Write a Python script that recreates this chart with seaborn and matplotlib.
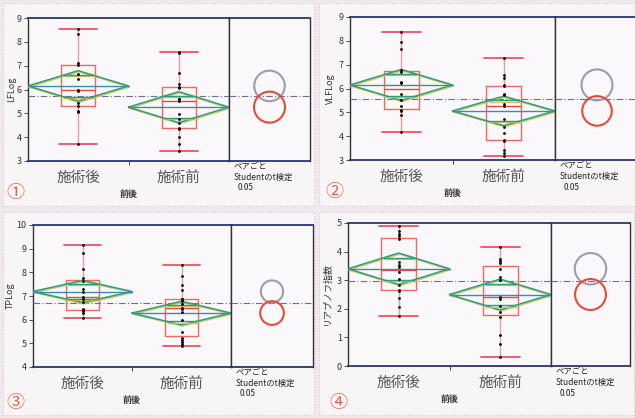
# JMP-style one-way plots (box + means diamond + comparison circles), 4 panels
import numpy as np
import pandas as pd
import matplotlib
matplotlib.use('Agg')
from matplotlib import pyplot as plt
from matplotlib.patches import Ellipse, Rectangle
import matplotlib.patheffects as pe
import seaborn as sns

groups = ['施術後', '施術前']

# panel 1 : LFLog
lf_after = [8.54, 8.31, 7.12, 7.01, 6.63, 6.45, 5.98, 5.92, 5.45, 5.31, 5.10, 5.05, 3.71]
lf_before = [7.57, 7.53, 6.69, 6.24, 6.10, 6.05, 5.62, 5.60, 5.50, 4.96, 4.78, 4.58, 4.40, 4.35, 4.02, 3.71, 3.43]
lf_mean = [6.15, 5.26]
lf_ci = [0.64, 0.65]
lf_grand = 5.71

# panel 2 : VLFLog
vlf_after = [8.37, 7.95, 7.67, 6.77, 6.68, 6.28, 6.21, 5.79, 5.51, 5.26, 5.10, 5.05, 4.88, 4.19]
vlf_before = [7.30, 6.55, 6.42, 6.15, 6.10, 5.79, 5.72, 5.37, 5.25, 4.73, 4.40, 4.14, 3.85, 3.80, 3.42, 3.30, 3.15]
vlf_mean = [6.15, 5.06]
vlf_ci = [0.65, 0.62]
vlf_grand = 5.58

# panel 3 : TPLog
tp_after = [9.17, 8.80, 8.16, 7.74, 7.62, 7.31, 7.17, 6.94, 6.86, 6.75, 6.43, 6.40, 6.38, 6.30, 6.05]
tp_before = [8.31, 7.85, 7.46, 7.24, 6.89, 6.86, 6.79, 6.68, 6.51, 6.47, 6.31, 5.98, 5.50, 5.24, 5.15, 5.05, 4.98, 4.90]
tp_mean = [7.19, 6.28]
tp_ci = [0.47, 0.50]
tp_grand = 6.72

# panel 4 : Lyapunov exponent
ly_after = [4.88, 4.71, 4.60, 4.53, 4.44, 3.62, 3.54, 3.46, 3.28, 3.04, 2.84, 2.66, 2.63, 2.37, 2.08, 1.75]
ly_before = [4.16, 3.74, 3.66, 3.60, 3.40, 3.11, 3.01, 2.41, 2.34, 2.10, 1.88, 1.71, 1.09, 0.77, 0.30]
ly_mean = [3.40, 2.50]
ly_ci = [0.55, 0.54]
ly_grand = 2.96

sns.set_style('white')
plt.rcParams['font.family'] = ['Noto Sans CJK JP', 'DejaVu Sans']

W, H = 635, 418
fig = plt.figure(figsize=(W / 100, H / 100), dpi=100)
fig.patch.set_facecolor('#efe9ed')


def px_rect(left, top, right, bottom):
    return [left / W, 1 - bottom / H, (right - left) / W, (bottom - top) / H]


# light dotted panel frames like the scanned sheet
for l, t, r, b in [(3, 3, 314, 206), (319, 3, 640, 206), (3, 212, 314, 415), (319, 212, 634, 415)]:
    fig.add_artist(Rectangle((l / W, 1 - b / H), (r - l) / W, (b - t) / H,
                             transform=fig.transFigure, facecolor='#f8f5f7',
                             edgecolor='#dcc6d0', lw=0.8, ls=':', zorder=0))

box_c = '#ef6a5e'
whisk_c = '#f29a98'
cap_c = '#ec5366'
med_c = '#e8483c'
diam_c = '#2f9c82'
mean_c = '#3a8cb8'
navy = '#2a3570'
# slight yellow mis-registration of the scan on the diamond lines
shadow = [pe.SimpleLineShadow(offset=(0.6, -0.8), shadow_color='#cdc44c', alpha=0.9), pe.Normal()]


def draw_panel(after, before, means, cis, grand, ylim, yticks, ylabel, num, layout, ylab_x, num_xy):
    left, div, right, top, bottom = layout
    ax = fig.add_axes(px_rect(left, top, div, bottom))
    sx = fig.add_axes(px_rect(div, top, right, bottom), sharey=ax)
    for a in (ax, sx):
        a.set_facecolor('#faf8fa')
        for s in a.spines.values():
            s.set_color('#333333')
            s.set_linewidth(1.0)
        a.spines['top'].set_color(navy)
        a.spines['bottom'].set_color(navy)
        a.spines['top'].set_linewidth(1.3)
        a.spines['bottom'].set_linewidth(1.3)

    df = pd.DataFrame({'前後': [groups[0]] * len(after) + [groups[1]] * len(before),
                       'value': after + before})
    sns.boxplot(data=df, x='前後', y='value', order=groups, ax=ax, width=0.34,
                fill=False, color=box_c, whis=(0, 100), linewidth=1.0, capwidths=0.38,
                whiskerprops={'color': whisk_c, 'linewidth': 1.0},
                capprops={'color': cap_c, 'linewidth': 1.3},
                medianprops={'color': med_c, 'linewidth': 1.0})
    sns.stripplot(data=df, x='前後', y='value', order=groups, ax=ax, jitter=False,
                  color='black', size=2.0, zorder=6)

    # means diamonds with overlap marks
    w = 0.5 * (1 - 1 / np.sqrt(2))
    for i, (m, c) in enumerate(zip(means, cis)):
        ax.plot([i - 0.5, i, i + 0.5, i, i - 0.5], [m, m + c, m, m - c, m],
                color=diam_c, lw=1.1, zorder=4, path_effects=shadow)
        ax.plot([i - 0.5, i + 0.5], [m, m], color=mean_c, lw=1.0, zorder=4)
        h = c / np.sqrt(2)
        ax.plot([i - w, i + w], [m + h, m + h], color=diam_c, lw=1.0, zorder=4, path_effects=shadow)
        ax.plot([i - w, i + w], [m - h, m - h], color=diam_c, lw=1.0, zorder=4, path_effects=shadow)

    for a in (ax, sx):
        a.axhline(grand, color='#6f6f8c', lw=0.8, dashes=(6, 2, 1, 2), zorder=3)

    ax.set_xlim(-0.5, 1.5)
    ax.set_ylim(ylim)
    ax.set_yticks(yticks)
    ax.tick_params(axis='y', labelsize=6.5, length=3, width=0.6, direction='out',
                   colors='#333333', pad=1.5, left=True)
    ax.set_xticks([0, 1])
    ax.set_xticklabels(groups, fontsize=10.5, color='#555555')
    ax.tick_params(axis='x', which='major', length=0, pad=7)
    ax.set_xticks([0.5], minor=True)
    ax.tick_params(axis='x', which='minor', length=3, width=0.6, direction='out', bottom=True)

    ax.set_xlabel('前後', fontsize=6.5, fontweight='bold', color='#333333')
    ax.xaxis.set_label_coords(0.5, -33 / (bottom - top))
    ax.xaxis.label.set_va('center')
    ax.set_ylabel(ylabel, fontsize=6.5, color='#333333')
    ax.yaxis.set_label_coords((ylab_x - left) / (div - left), 0.5)
    ax.yaxis.label.set_va('center')

    # comparison circles
    sx.set_xlim(0, 1)
    sx.tick_params(left=False, labelleft=False, bottom=False, labelbottom=False)
    wpx = right - div
    hpx = bottom - top
    k = hpx / (ylim[1] - ylim[0]) / wpx
    for m, c, col in zip(means, cis, ['#9c9cae', '#e84a3a']):
        sx.add_patch(Ellipse((0.5, m), width=2 * c * k, height=2 * c, fill=False,
                             edgecolor=col, lw=1.5, zorder=5))

    for txt, dx, dy in [('ペアごと', 5, 5), ('Studentのt検定', 5, 16), ('0.05', 9, 27)]:
        sx.text(dx / wpx, -dy / hpx, txt, transform=sx.transAxes, fontsize=6,
                va='center', ha='left', color='#222222')

    fig.text(num_xy[0] / W, 1 - num_xy[1] / H, num, fontsize=13, color='#e8604a',
             ha='center', va='center')


draw_panel(lf_after, lf_before, lf_mean, lf_ci, lf_grand, (3, 9), range(3, 10), 'LFLog', '①',
           (28, 229, 310, 18, 161), 12, (15, 193))
draw_panel(vlf_after, vlf_before, vlf_mean, vlf_ci, vlf_grand, (3, 9), range(3, 10), 'VLFLog', '②',
           (350, 555, 639, 17, 160), 330, (334, 192))
draw_panel(tp_after, tp_before, tp_mean, tp_ci, tp_grand, (4, 10), range(4, 11), 'TPLog', '③',
           (33, 231, 313, 225, 367), 10, (15, 403))
draw_panel(ly_after, ly_before, ly_mean, ly_ci, ly_grand, (0, 5), range(0, 6), 'リアプノフ指数', '④',
           (348, 551, 630, 223, 366), 328, (338, 403))

fig.savefig('out.png', dpi=100, facecolor=fig.get_facecolor())
